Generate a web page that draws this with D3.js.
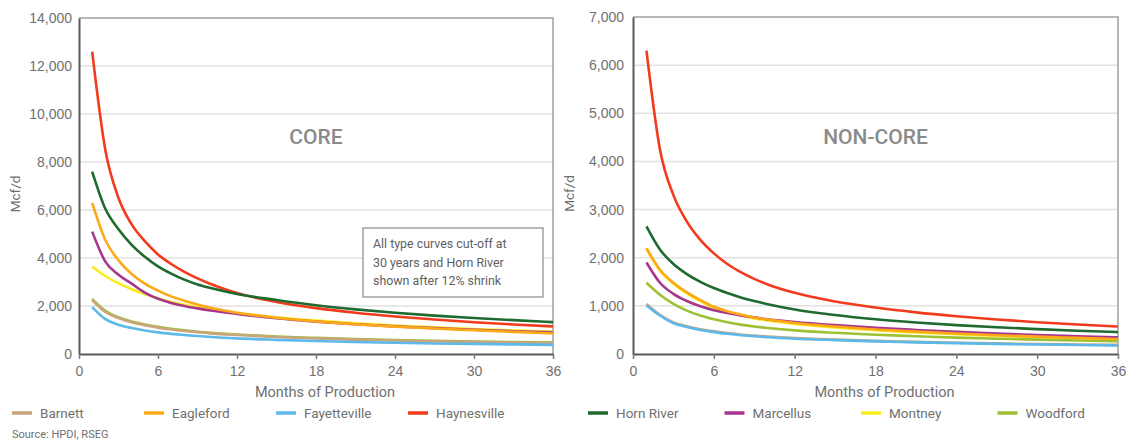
<!DOCTYPE html>
<html>
<head>
<meta charset="utf-8">
<script src="https://cdn.jsdelivr.net/npm/d3@7"></script>
<style>
  body { margin: 0; background: #fff; }
  svg { font-family: Roboto, "Liberation Sans", sans-serif; }
  .tick text { fill: #707070; font-size: 14px; }
</style>
</head>
<body>
<svg id="chart" width="1131" height="440"></svg>
<script>
const months = [1, 2, 3, 4, 5, 6, 7, 8, 9, 10, 12, 15, 18, 21, 24, 27, 30, 33, 36];
const plays = ["Barnett", "Eagleford", "Fayetteville", "Haynesville", "Horn River", "Marcellus", "Montney", "Woodford"];
const playColors = ["#c9a57c", "#fca918", "#5cb9ea", "#f23b1c", "#1e6a2f", "#a8368f", "#f7ec1c", "#9dc132"];
// lower ones first so the tan/yellow sit under the others
const drawOrder = ["Montney", "Woodford", "Barnett", "Fayetteville", "Marcellus", "Eagleford", "Haynesville", "Horn River"];

// CORE, Mcf/d
const coreBarnett = [2250, 1750, 1500, 1320, 1200, 1100, 1020, 960, 910, 860, 790, 710, 650, 600, 560, 530, 500, 480, 460];
const coreEagleford = [6300, 4750, 3900, 3330, 2930, 2640, 2400, 2220, 2060, 1930, 1720, 1510, 1355, 1240, 1140, 1060, 990, 920, 860];
const coreFayetteville = [1950, 1450, 1220, 1080, 980, 900, 840, 790, 750, 710, 650, 590, 540, 500, 470, 440, 420, 400, 380];
const coreHaynesville = [12600, 8500, 6500, 5400, 4700, 4150, 3750, 3420, 3150, 2920, 2540, 2170, 1910, 1720, 1565, 1435, 1325, 1230, 1150];
const coreHornRiver = [7600, 6050, 5200, 4550, 4050, 3650, 3350, 3100, 2900, 2750, 2500, 2250, 2030, 1860, 1720, 1600, 1500, 1410, 1330];
const coreMarcellus = [5100, 3850, 3300, 2930, 2560, 2300, 2130, 2000, 1900, 1810, 1670, 1490, 1350, 1240, 1150, 1080, 1010, 950, 900];
const coreMontney = [3650, 3250, 2950, 2700, 2500, 2320, 2170, 2050, 1950, 1860, 1710, 1530, 1390, 1280, 1190, 1110, 1040, 980, 930];
const coreWoodford = [2300, 1800, 1530, 1350, 1230, 1130, 1050, 990, 930, 880, 810, 730, 670, 620, 580, 550, 520, 500, 480];

// NON-CORE, Mcf/d
const ncBarnett = [1040, 815, 655, 575, 515, 470, 435, 405, 382, 362, 330, 298, 272, 252, 235, 220, 207, 197, 188];
const ncEagleford = [2200, 1750, 1480, 1280, 1120, 980, 890, 820, 760, 715, 645, 570, 510, 465, 425, 390, 360, 335, 310];
const ncFayetteville = [1010, 800, 640, 560, 500, 455, 420, 390, 368, 348, 318, 288, 262, 242, 225, 210, 198, 188, 178];
const ncHaynesville = [6300, 4250, 3300, 2750, 2370, 2090, 1870, 1700, 1560, 1445, 1270, 1090, 965, 865, 785, 718, 660, 612, 570];
const ncHornRiver = [2650, 2170, 1870, 1660, 1500, 1370, 1265, 1175, 1100, 1035, 925, 810, 722, 655, 600, 555, 517, 484, 455];
const ncMarcellus = [1900, 1480, 1250, 1100, 990, 910, 850, 800, 760, 720, 665, 600, 545, 500, 460, 425, 395, 370, 345];
const ncMontney = [2180, 1730, 1460, 1260, 1100, 960, 870, 800, 740, 695, 625, 550, 492, 448, 410, 376, 348, 324, 300];
const ncWoodford = [1480, 1230, 1040, 900, 800, 720, 660, 610, 570, 540, 490, 440, 400, 370, 340, 318, 298, 280, 265];

const coreSeries = [coreBarnett, coreEagleford, coreFayetteville, coreHaynesville, coreHornRiver, coreMarcellus, coreMontney, coreWoodford];
const ncSeries = [ncBarnett, ncEagleford, ncFayetteville, ncHaynesville, ncHornRiver, ncMarcellus, ncMontney, ncWoodford];

const noteLines = ["All type curves cut-off at", "30 years and Horn River", "shown after 12% shrink"];

const svg = d3.select("#chart");
const color = d3.scaleOrdinal().domain(plays).range(playColors);

function drawPanel(opts) {
  const x = d3.scaleLinear().domain([0, 36]).range([opts.left, opts.right]);
  const y = d3.scaleLinear().domain([0, opts.maxY]).range([opts.bottom, opts.top]);
  const g = svg.append("g");

  // gridlines
  g.append("g")
    .selectAll("line")
    .data(d3.range(opts.step, opts.maxY, opts.step))
    .join("line")
    .attr("x1", opts.left)
    .attr("x2", opts.right)
    .attr("y1", (d) => y(d))
    .attr("y2", (d) => y(d))
    .attr("stroke", "#e2e2e2")
    .attr("stroke-width", 1.5);

  // frame top / right
  g.append("path")
    .attr("d", `M${opts.left},${opts.top}H${opts.right}V${opts.bottom}`)
    .attr("fill", "none")
    .attr("stroke", "#a0a0a0")
    .attr("stroke-width", 1.5);

  g.append("text")
    .attr("x", (opts.left + opts.right) / 2)
    .attr("y", 144)
    .attr("text-anchor", "middle")
    .attr("fill", "#8a8a8a")
    .attr("font-size", 21)
    .attr("font-weight", 500)
    .text(opts.title);

  const rows = plays.map((name, i) => ({
    name,
    values: months.map((m, j) => [m, opts.series[i][j]]),
  }));
  rows.sort((a, b) => drawOrder.indexOf(a.name) - drawOrder.indexOf(b.name));

  const line = d3
    .line()
    .x((d) => x(d[0]))
    .y((d) => y(d[1]))
    .curve(d3.curveMonotoneX);

  g.append("g")
    .selectAll("path")
    .data(rows)
    .join("path")
    .attr("fill", "none")
    .attr("stroke", (d) => color(d.name))
    .attr("stroke-width", 2.6)
    .attr("stroke-linejoin", "round")
    .attr("d", (d) => line(d.values));

  const yAxis = g
    .append("g")
    .attr("transform", `translate(${opts.left},0)`)
    .call(
      d3
        .axisLeft(y)
        .tickValues(d3.range(0, opts.maxY + 1, opts.step))
        .tickFormat(d3.format(","))
        .tickSize(0)
        .tickSizeOuter(0)
        .tickPadding(opts.yPad)
    );
  yAxis.select(".domain").attr("stroke", "#5a5a5a").attr("stroke-width", 2);

  const xAxis = g
    .append("g")
    .attr("transform", `translate(0,${opts.bottom})`)
    .call(d3.axisBottom(x).tickValues(d3.range(0, 37, 6)).tickSize(5).tickSizeOuter(0).tickPadding(7));
  xAxis.select(".domain").attr("stroke", "#5a5a5a").attr("stroke-width", 2);
  xAxis.selectAll(".tick line").attr("stroke", "#777").attr("stroke-width", 1.5);

  g.append("text")
    .attr("transform", `translate(${opts.left - 59},${(opts.top + opts.bottom) / 2 + 8}) rotate(-90)`)
    .attr("text-anchor", "middle")
    .attr("fill", "#707070")
    .attr("font-size", 13.5)
    .text("Mcf/d");

  g.append("text")
    .attr("x", (opts.left + opts.right) / 2 + 9)
    .attr("y", 397)
    .attr("text-anchor", "middle")
    .attr("fill", "#707070")
    .attr("font-size", 14.5)
    .text("Months of Production");

  return { g, x, y };
}

const core = drawPanel({
  left: 79, right: 553, top: 18, bottom: 354,
  maxY: 14000, step: 2000, title: "CORE", series: coreSeries, yPad: 7,
});

drawPanel({
  left: 633, right: 1118, top: 17, bottom: 354,
  maxY: 7000, step: 1000, title: "NON-CORE", series: ncSeries, yPad: 9,
});

// note box on the core panel
const note = core.g.append("g").attr("transform", "translate(363,228)");
note.append("rect")
  .attr("width", 180)
  .attr("height", 69)
  .attr("fill", "#fff")
  .attr("stroke", "#8a8a8a")
  .attr("stroke-width", 1.2);
note.selectAll("text")
  .data(noteLines)
  .join("text")
  .attr("x", 10)
  .attr("y", (d, i) => 20 + i * 18.5)
  .attr("fill", "#5f5f5f")
  .attr("font-size", 12.4)
  .text((d) => d);

// legend: four items under each panel
const legend = svg
  .append("g")
  .selectAll("g")
  .data(plays)
  .join("g")
  .attr("transform", (d, i) =>
    i < 4 ? `translate(${12 + i * 132},413)` : `translate(${588 + (i - 4) * 136.5},413)`
  );
legend.append("line")
  .attr("x2", 20)
  .attr("stroke", (d) => color(d))
  .attr("stroke-width", 3.5);
legend.append("text")
  .attr("x", 28)
  .attr("dy", "0.35em")
  .attr("fill", "#707070")
  .attr("font-size", 13.5)
  .text((d) => d);

svg.append("text")
  .attr("x", 12)
  .attr("y", 438)
  .attr("fill", "#707070")
  .attr("font-size", 11)
  .text("Source: HPDI, RSEG");
</script>
</body>
</html>
